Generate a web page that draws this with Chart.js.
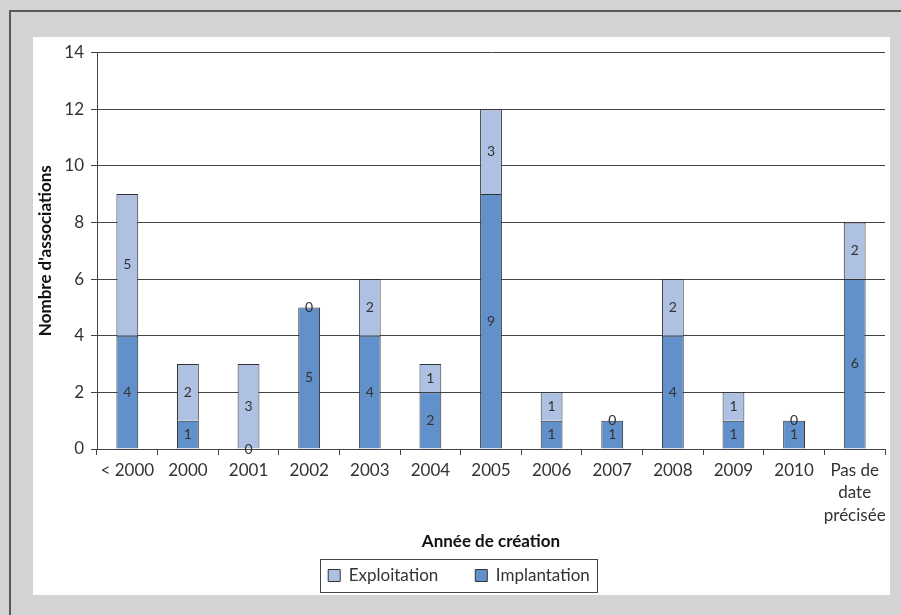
<!DOCTYPE html>
<html>
<head>
<meta charset="utf-8">
<script src="https://cdn.jsdelivr.net/npm/chart.js@4.4.0/dist/chart.umd.min.js"></script>
<style>
    body { margin: 0; background: #d3d3d5; width: 901px; height: 615px; overflow: hidden; position: relative; }
    #cadre { position: absolute; left: 9px; top: 10px; width: 1000px; height: 1000px; border: 2px solid #5a5a5a; background: #d3d3d5; }
    #panneau { position: absolute; left: 33px; top: 37px; width: 857px; height: 558px; background: #fff; }
</style>
</head>
<body>
<div id="cadre"></div>
<div id="panneau"><canvas id="graphique" width="857" height="558"></canvas></div>
<script>
const ANNEES = ['< 2000', '2000', '2001', '2002', '2003', '2004', '2005', '2006', '2007', '2008', '2009', '2010', ['Pas de', 'date', 'précisée']];
const IMPLANTATION = [4, 1, 0, 5, 4, 2, 9, 1, 1, 4, 1, 1, 6];
const EXPLOITATION = [5, 2, 3, 0, 2, 1, 3, 1, 0, 2, 1, 0, 2];
const GRADUATIONS_Y = [0, 2, 4, 6, 8, 10, 12, 14];

const POLICE = 'Lato, "Open Sans", sans-serif';
const GRIS_TEXTE = '#333';
const GRIS_TRAIT = '#444';

// étiquettes de valeur au milieu de chaque segment
const pluginValeurs = {
    id: 'valeurs',
    afterDatasetsDraw(chart) {
        const ctx = chart.ctx;
        ctx.save();
        ctx.font = '14px ' + POLICE;
        ctx.fillStyle = GRIS_TEXTE;
        ctx.textAlign = 'center';
        ctx.textBaseline = 'middle';
        chart.data.datasets.forEach((ds, i) => {
            const meta = chart.getDatasetMeta(i);
            meta.data.forEach((barre, j) => {
                ctx.fillText(String(ds.data[j]), barre.x, (barre.y + barre.base) / 2);
            });
        });
        ctx.restore();
    }
};

// cadre autour de la légende
const pluginCadreLegende = {
    id: 'cadreLegende',
    afterDraw(chart) {
        const boites = chart.legend && chart.legend.legendHitBoxes;
        if (!boites || !boites.length) return;
        const gauche = Math.min(...boites.map(b => b.left)) - 8;
        const droite = Math.max(...boites.map(b => b.left + b.width)) + 7;
        const haut = boites[0].top - 8;
        const bas = boites[0].top + boites[0].height + 8;
        const ctx = chart.ctx;
        ctx.save();
        ctx.strokeStyle = GRIS_TRAIT;
        ctx.lineWidth = 1;
        ctx.strokeRect(Math.round(gauche) + 0.5, Math.round(haut) + 0.5, Math.round(droite - gauche), Math.round(bas - haut));
        ctx.restore();
    }
};

new Chart(document.getElementById('graphique'), {
    type: 'bar',
    data: {
        labels: ANNEES,
        datasets: [
            {
                label: 'Implantation',
                data: IMPLANTATION,
                backgroundColor: '#6190cb',
                borderColor: '#333',
                borderWidth: 1,
                categoryPercentage: 0.8,
                barPercentage: 0.45
            },
            {
                label: 'Exploitation\u2002\u2002',
                data: EXPLOITATION,
                backgroundColor: '#aec1e3',
                borderColor: '#333',
                borderWidth: 1,
                categoryPercentage: 0.8,
                barPercentage: 0.45
            }
        ]
    },
    options: {
        responsive: false,
        animation: false,
        layout: { padding: { top: 13, right: 5, left: 0, bottom: 1 } },
        plugins: {
            tooltip: { enabled: false },
            legend: {
                position: 'bottom',
                reverse: true,
                labels: {
                    boxWidth: 12,
                    boxHeight: 12,
                    padding: 20,
                    color: GRIS_TEXTE,
                    font: { family: POLICE, size: 17 }
                }
            }
        },
        scales: {
            x: {
                stacked: true,
                afterFit: (echelle) => { echelle.height = 98; },
                grid: { display: true, drawOnChartArea: false, offset: true, tickLength: 6, color: GRIS_TRAIT },
                border: { color: GRIS_TRAIT },
                ticks: {
                    autoSkip: false,
                    maxRotation: 0,
                    padding: 4,
                    color: GRIS_TEXTE,
                    font: { family: POLICE, size: 17, lineHeight: 1.32 }
                },
                title: {
                    display: true,
                    text: 'Année de création',
                    color: '#111',
                    padding: { top: 0, bottom: -5 },
                    font: { family: POLICE, size: 17, weight: 'bold' }
                }
            },
            y: {
                stacked: true,
                min: 0,
                max: 14,
                afterFit: (echelle) => { echelle.width = 64; },
                afterBuildTicks: (echelle) => { echelle.ticks = GRADUATIONS_Y.map(v => ({ value: v })); },
                grid: { color: GRIS_TRAIT, tickLength: 6 },
                border: { color: GRIS_TRAIT },
                ticks: {
                    padding: 7,
                    color: GRIS_TEXTE,
                    font: { family: POLICE, size: 17, lineHeight: 1 }
                },
                title: {
                    display: true,
                    text: "Nombre d'associations",
                    color: '#111',
                    padding: { top: 2, bottom: 0 },
                    font: { family: POLICE, size: 17, weight: 'bold' }
                }
            }
        }
    },
    plugins: [pluginValeurs, pluginCadreLegende]
});
</script>
</body>
</html>
